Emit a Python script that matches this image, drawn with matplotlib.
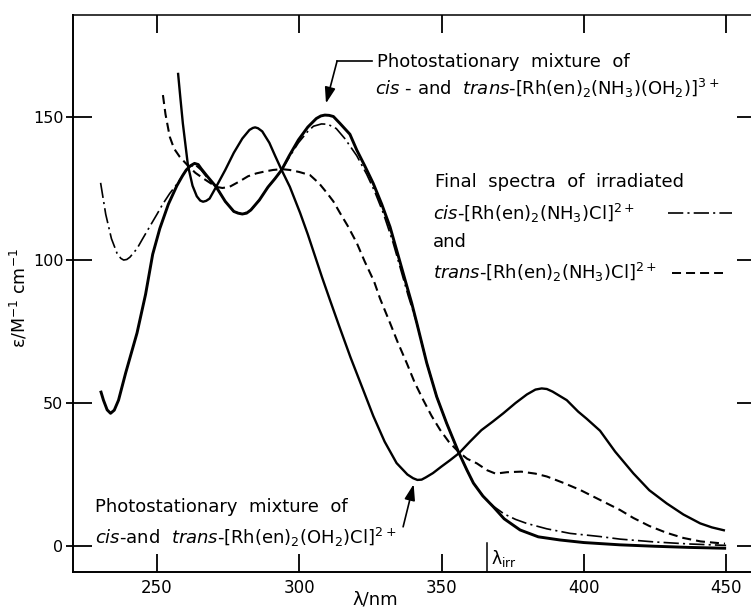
import matplotlib
matplotlib.use("Agg")
import matplotlib.pyplot as plt
from matplotlib.ticker import FixedLocator

plt.rcParams['font.family'] = ['DejaVu Sans']
plt.rcParams['mathtext.fontset'] = 'dejavusans'
plt.rcParams['lines.scale_dashes'] = False

# ---- data ----
# Photostationary mixture of cis- and trans-[Rh(en)2(NH3)(OH2)]3+ (solid, thick)
aqua_x = [230.2, 231.2, 232.5, 233.7, 235, 236.5, 239, 243, 246, 248.5, 251, 254, 257, 259,
          260.3, 261.8, 263.2, 264.5, 265.5, 267.5, 270.8, 274, 277, 278.5, 280, 281.5, 283,
          286, 289, 291.5, 293.8, 296.5, 299.7, 303, 306, 307.6, 309, 310.5, 312, 314.3,
          317.8, 320.2, 323, 326, 329, 331.9, 334.5, 337.2, 339.5, 341.3, 344.8, 348.3, 351.8,
          355.9, 358.9, 361.2, 364.5, 368.2, 372, 377.6, 384, 391.6, 400, 412.7, 425, 437, 450]
aqua_y = [54.3, 51, 47.6, 46.4, 47.5, 51, 60.5, 74.5, 88, 102, 111, 119.5, 126, 129.5, 131.5,
          133, 133.8, 133.4, 132, 129.5, 125.6, 120.5, 117, 116.4, 116.1, 116.4, 117.5, 121,
          125.5, 128.5, 131.5, 136.5, 142, 146.5, 149.5, 150.4, 150.7, 150.6, 150.2, 147.8,
          144, 138.5, 133, 126.8, 119.5, 111.6, 102.5, 93, 85, 78, 64, 52.2, 42.9, 33, 26.6,
          22, 17.5, 13.7, 9.5, 5.6, 3.2, 2.1, 1.2, 0.4, -0.1, -0.5, -0.8]

# Photostationary mixture of cis- and trans-[Rh(en)2(OH2)Cl]2+ (solid)
chloro_x = [257.4, 258.2, 259.1, 260.9, 262.5, 264, 265.2, 266.2, 267.3, 268.5, 270.8, 274,
            277, 280, 282.5, 283.7, 284.5, 285.5, 287, 289.5, 291.5, 293.8, 296.7, 300.3, 303,
            305.5, 308, 310.8, 314, 318, 322.5, 326, 330, 334.2, 338, 340, 341.5, 343, 344.5,
            347, 350, 353, 356.2, 360, 364, 368, 371.7, 376, 380, 383, 385.2, 387, 389, 391,
            394, 398, 401, 405.7, 411, 417.4, 423, 429.1, 435, 440.9, 445, 449.6]
chloro_y = [165.5, 157, 147.8, 133, 126, 122.3, 120.8, 120.4, 120.7, 121.5, 125.6, 131.5,
            137.5, 142.5, 145.5, 146.2, 146.4, 146.1, 145, 141, 136.5, 131.5, 125.6, 116.5,
            109, 101.5, 94, 86, 77, 66, 54.5, 45.5, 36.5, 29, 25, 23.7, 23.1, 23.2, 24, 25.5,
            27.8, 30, 32.5, 36.5, 40.5, 43.5, 46.4, 50, 53, 54.7, 55.1, 54.9, 54, 52.8, 51,
            47, 44.5, 40.3, 33, 25.4, 19.5, 14.9, 11, 7.9, 6.5, 5.4]

# Final spectrum of irradiated cis-[Rh(en)2(NH3)Cl]2+ (dash-dot)
cis_x = [230.2, 232, 234, 236, 237.3, 238.3, 239.4, 240.5, 243, 245, 247.4, 250, 252, 254.5,
         257, 260.3, 263.2, 265.5, 267.5, 270.8, 274, 277, 280, 283, 286, 289, 291.5, 293.8,
         296.5, 299.7, 303, 305, 307.8, 310, 313, 316, 320.2, 323.7, 326.5, 329.5, 333, 336,
         338.3, 341.3, 344.8, 348.3, 351.8, 355.9, 358.9, 361.2, 364.5, 368.2, 372, 376, 379.9,
         387, 395.2, 405.7, 412.7, 425, 437, 450]
cis_y = [127, 116, 107.5, 102.3, 100.6, 100, 100.2, 101, 104, 107.5, 111.6, 116, 119.5, 123.3,
         126.5, 131.5, 133.5, 131.5, 129, 125.6, 120.5, 117, 116, 117.5, 121, 125.5, 128.5,
         131.5, 136, 141, 145, 146.8, 147.6, 147.5, 146, 142.5, 136.5, 130, 124, 116.5, 106,
         95.5, 87.5, 78, 64, 52.2, 42.9, 33, 26.6, 22, 17.6, 13.9, 11.2, 9.3, 7.9, 6.0, 4.4,
         3.3, 2.4, 1.4, 0.7, 0.2]

# Final spectrum of irradiated trans-[Rh(en)2(NH3)Cl]2+ (dashed)
trans_x = [252.1, 253, 254.5, 256, 258, 260.9, 263.5, 266.2, 270.8, 273, 275.5, 279, 282,
           284.9, 288, 290.8, 293.8, 296.7, 300, 303.8, 307, 309.7, 312, 314.3, 317, 320.2,
           323, 326.3, 328.4, 331.9, 334.5, 337.8, 340.5, 343.6, 346.5, 349.5, 352.5, 355.9,
           359, 362.4, 366, 369, 373, 378, 383, 387, 393, 398.7, 405.7, 412.7, 417.4, 423,
           429.1, 435, 441, 449.6]
trans_y = [157.7, 151, 143.1, 139, 136.1, 133, 130.5, 128.6, 125.6, 125.2, 125.6, 127.5,
           129.3, 130.3, 131, 131.5, 131.8, 131.5, 130.8, 129.7, 126.8, 123.5, 120.5, 116.5,
           112, 106, 99.5, 92.5, 86.5, 78, 71.5, 63.9, 57.3, 51, 45.5, 40.6, 36.5, 33, 30.5,
           28.9, 26.5, 25.3, 25.8, 26, 25.3, 24.3, 22, 19.6, 16.1, 12.6, 9.8, 7, 4.6, 2.8, 1.6,
           0.8]

x_ticks = [250, 300, 350, 400, 450]
y_ticks = [0, 50, 100, 150]
lambda_irr = 366

# ---- figure ----
fig = plt.figure(figsize=(7.51, 6.10), dpi=100)
ax = fig.add_axes([73/751, 1 - 572/610, 683/751, 557/610])
ax.set_xlim(220.5, 460.5)
ax.set_ylim(-9.1, 185.7)

dashdot = (0, (11, 3, 1.5, 3))
dashed = (0, (6.5, 3.6))

ax.plot(aqua_x, aqua_y, color='black', lw=2.1, solid_capstyle='butt', solid_joinstyle='round')
ax.plot(chloro_x, chloro_y, color='black', lw=1.7, solid_capstyle='butt', solid_joinstyle='round')
ax.plot(cis_x, cis_y, color='black', lw=1.2, linestyle=dashdot)
ax.plot(trans_x, trans_y, color='black', lw=1.5, linestyle=dashed)

for s in ax.spines.values():
    s.set_linewidth(1.4)
ax.spines['top'].set_linewidth(1.1)

ax.set_xticks(x_ticks)
ax.set_yticks(y_ticks)
ax.tick_params(axis='x', which='major', direction='in', length=13, width=1.3,
               top=True, labelsize=12, pad=5)
ax.tick_params(axis='y', which='major', direction='in', length=14, width=1.3,
               right=True, labelsize=11.5, pad=7)
ax.yaxis.set_minor_locator(FixedLocator(y_ticks))
ax.yaxis.remove_overlapping_locs = False
ax.tick_params(axis='y', which='minor', direction='out', length=5, width=1.3)

# lambda_irr marker
ax.plot([lambda_irr, lambda_irr], [1.2, -9.1], color='black', lw=1.1)
ax.text(lambda_irr + 1.3, -4.4, 'λ$_{\\mathrm{irr}}$', fontsize=12.5, ha='left', va='center')

# axis labels
fig.text(375/751, 1 - 600/610, 'λ/nm', fontsize=13, ha='center', va='center')
fig.text(19/751, 1 - 298/610, 'ε/M$^{-1}$ cm$^{-1}$', fontsize=12.5, rotation=90,
         ha='center', va='center')

fs = 13
# top annotation
ax.text(327.3, 169.2, 'Photostationary  mixture  of', fontsize=fs, ha='left', va='center')
ax.text(326.6, 160.1,
        r'$\mathit{cis}$ - and  $\mathit{trans}$-[Rh(en)$_2$(NH$_3$)(OH$_2$)]$^{3+}$',
        fontsize=fs, ha='left', va='center')
ax.plot([325.5, 313.3], [169.6, 169.6], color='black', lw=1.2)
ax.annotate('', xy=(309.4, 154.8), xytext=(313.3, 169.6),
            arrowprops=dict(arrowstyle='-|>,head_length=0.6,head_width=0.2', color='black',
                            lw=1.2, mutation_scale=16, shrinkA=0, shrinkB=0))

# right-hand legend block
ax.text(347.7, 127.3, 'Final  spectra  of  irradiated', fontsize=fs, ha='left', va='center')
ax.text(347.0, 116.4, r'$\mathit{cis}$-[Rh(en)$_2$(NH$_3$)Cl]$^{2+}$', fontsize=fs,
        ha='left', va='center')
ax.plot([429.6, 452.1], [116.4, 116.4], color='black', lw=1.2, linestyle=dashdot)
ax.text(347.0, 106.3, 'and', fontsize=fs, ha='left', va='center')
ax.text(347.0, 95.5, r'$\mathit{trans}$-[Rh(en)$_2$(NH$_3$)Cl]$^{2+}$', fontsize=fs,
        ha='left', va='center')
ax.plot([431.0, 449.0], [95.5, 95.5], color='black', lw=1.4, linestyle=dashed)

# bottom annotation
ax.text(228.2, 13.6, 'Photostationary  mixture  of', fontsize=fs, ha='left', va='center')
ax.text(228.2, 3.1, r'$\mathit{cis}$-and  $\mathit{trans}$-[Rh(en)$_2$(OH$_2$)Cl]$^{2+}$',
        fontsize=fs, ha='left', va='center')
ax.annotate('', xy=(340.2, 21.6), xytext=(336.5, 6.7),
            arrowprops=dict(arrowstyle='-|>,head_length=0.6,head_width=0.2', color='black',
                            lw=1.2, mutation_scale=16, shrinkA=0, shrinkB=0))

fig.savefig('out.png', dpi=100)
